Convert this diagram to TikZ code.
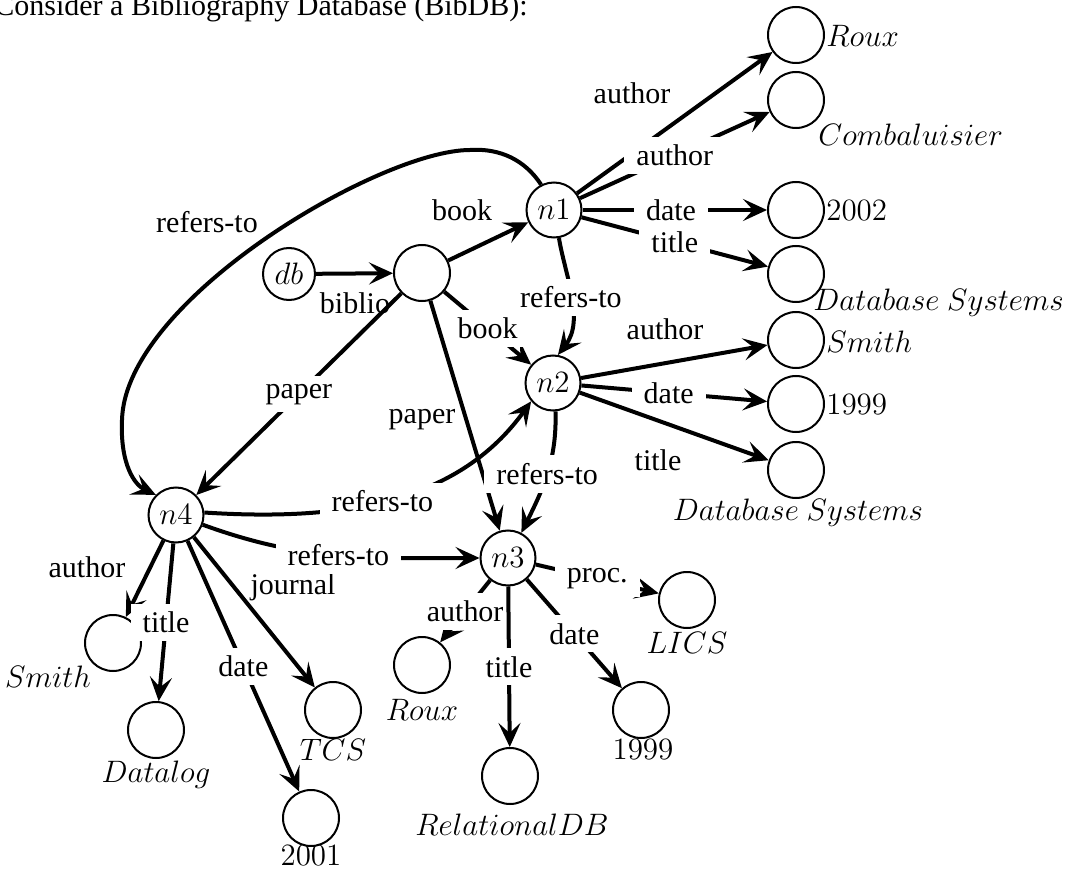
\RequirePackage{fix-cm}
\documentclass[tikz,border=0pt]{standalone}
\usepackage[no-math]{fontspec}
\setmainfont{Liberation Serif}
\usetikzlibrary{arrows.meta}
\begin{document}
\begin{tikzpicture}[x=0.5pt,y=-0.5pt,
  font=\fontsize{15}{18}\selectfont,
  mfont/.style={font=\fontsize{15.5}{18}\selectfont},
  inode/.style={circle, draw, line width=1pt, minimum size=27.5pt, inner sep=0pt, mfont},
  leaf/.style={circle, draw, line width=1pt, minimum size=28pt, inner sep=0pt},
  edge/.style={line width=2pt, -{Stealth[length=12pt,width=11pt,inset=5pt]}},
  lab/.style={inner sep=0pt},
  mlab/.style={inner sep=0pt, mfont},
  gap/.style={fill=white, inner xsep=6pt, inner ysep=4pt},
]
\useasboundingbox (0,0) rectangle (1067,872);
\node[anchor=base west, inner sep=0pt] (ttl) at (-6,16) {Consider a Bibliography Database (BibDB):};

% main nodes
\node[inode, minimum size=26pt] (db) at (289,274) {$db$};
\node[leaf] (root) at (422,273) {};
\node[inode] (n1) at (554,210) {$n1$};
\node[inode] (n2) at (553,383) {$n2$};
\node[inode] (n3) at (508,558) {$n3$};
\node[inode] (n4) at (176,515) {$n4$};

% leaves
\node[leaf] (rx1) at (796,35) {};
\node[leaf] (cb) at (796,100) {};
\node[leaf] (y2002) at (796,210) {};
\node[leaf] (ds1) at (796,274) {};
\node[leaf] (sm1) at (796,340) {};
\node[leaf] (y1999a) at (796,404) {};
\node[leaf] (ds2) at (796,470) {};
\node[leaf] (sm2) at (113,643) {};
\node[leaf] (dl) at (156,730) {};
\node[leaf] (tcs) at (333,710) {};
\node[leaf] (y2001) at (311,818) {};
\node[leaf] (rx2) at (422,665) {};
\node[leaf] (rdb) at (510,776) {};
\node[leaf] (y1999b) at (641,710) {};
\node[leaf] (lics) at (687,600) {};

% leaf values
\node[mlab, anchor=west] (vrx1) at (826,36) {$Roux$};
\node[mlab, anchor=west] (vcb) at (818,135) {$Combaluisier$};
\node[mlab, anchor=west] (v2002) at (826,211) {$2002$};
\node[mlab, anchor=west] (vds1) at (813,303) {$Database\ Systems$};
\node[mlab, anchor=west] (vsm1) at (826,342) {$Smith$};
\node[mlab, anchor=west] (v1999a) at (826,405) {$1999$};
\node[mlab] (vds2) at (798,513) {$Database\ Systems$};
\node[mlab] (vsm2) at (48,677) {$Smith$};
\node[mlab] (vdl) at (156,775) {$Datalog$};
\node[mlab] (vtcs) at (333,750) {$TCS$};
\node[mlab] (v2001) at (311,856) {$2001$};
\node[mlab] (vrx2) at (422,710) {$Roux$};
\node[mlab] (vrdb) at (512,825) {$RelationalDB$};
\node[mlab] (v1999b) at (643,750) {$1999$};
\node[mlab] (vlics) at (687,643) {$LICS$};

% plain edge labels
\node[lab] (lbiblio) at (355,303) {biblio};
\node[lab] (lbook1) at (462,210) {book};
\node[lab] (lpaper2) at (422,420) {paper};
\node[lab] (lauth1) at (632,93) {author};
\node[lab] (lref1) at (207,222) {refers-to};
\node[lab] (lauth3) at (665,329) {author};
\node[lab] (ltitle2) at (658,460) {title};
\node[lab] (lauth4) at (87,567) {author};
\node[lab] (ljournal) at (293,587) {journal};

% edges
\draw[edge] (db) -- (root);
\draw[edge] (root) -- (n1);
\draw[edge] (root) -- (n2) node[gap, pos=.5] {book};
\draw[edge] (root) -- (n4) node[gap, pos=.5] {paper};
\draw[edge] (root) -- (n3);

\draw[edge] (n1) -- (rx1);
\draw[edge] (n1) -- (cb) node[gap, pos=.5] {author};
\draw[edge] (n1) -- (y2002) node[gap, pos=.48] {date};
\draw[edge] (n1) -- (ds1) node[gap, pos=.5] {title};
\draw[edge] (n1.-80) .. controls (565,275) and (585,320) .. (n2.80) node[gap, pos=.5] {refers-to};
\draw[edge] (n1.117) .. controls (525,160) and (500,148) .. (470,150)
  .. controls (380,150) and (125,300) .. (122,420)
  .. controls (120,465) and (135,485) .. (n4.135);

\draw[edge] (n2) -- (sm1);
\draw[edge] (n2) -- (y1999a) node[gap, pos=.47] {date};
\draw[edge] (n2) -- (ds2);
\draw[edge] (n2.-85) .. controls (557,460) and (543,489) .. (n3.62) node[gap, pos=.5] {refers-to};

\draw[edge] (n4.5) .. controls (350,522) and (460,500) .. (n2.220) node[gap, pos=.46] {refers-to};
\draw[edge] (n4.-20) .. controls (305,562) and (370,558) .. (n3.west) node[gap, pos=.5] {refers-to};
\draw[edge] (n4) -- (sm2);
\draw[edge] (n4) -- (dl) node[gap, pos=.5] {title};
\draw[edge] (n4) -- (y2001) node[gap, pos=.5] {date};
\draw[edge] (n4) -- (tcs);

\draw[edge] (n3) -- (lics) node[gap, pos=.5] {proc.};
\draw[edge] (n3) -- (rx2) node[gap, pos=.5] {author};
\draw[edge] (n3) -- (rdb) node[gap, pos=.5] {title};
\draw[edge] (n3) -- (y1999b) node[gap, pos=.5] {date};
\end{tikzpicture}
\end{document}
